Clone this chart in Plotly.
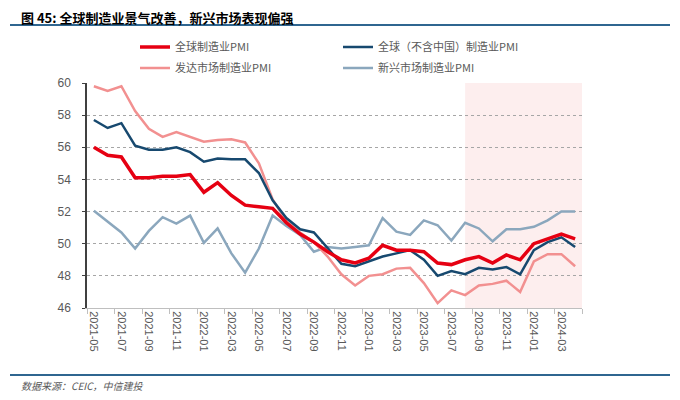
import plotly.graph_objects as go

# =========================
# DATA
# =========================
months = [
    "2021-05", "2021-06", "2021-07", "2021-08", "2021-09", "2021-10",
    "2021-11", "2021-12", "2022-01", "2022-02", "2022-03", "2022-04",
    "2022-05", "2022-06", "2022-07", "2022-08", "2022-09", "2022-10",
    "2022-11", "2022-12", "2023-01", "2023-02", "2023-03", "2023-04",
    "2023-05", "2023-06", "2023-07", "2023-08", "2023-09", "2023-10",
    "2023-11", "2023-12", "2024-01", "2024-02", "2024-03", "2024-04",
]

global_pmi = [
    56.0, 55.5, 55.4, 54.1, 54.1, 54.2, 54.2, 54.3, 53.2, 53.8, 53.0, 52.4,
    52.3, 52.2, 51.3, 50.6, 50.1, 49.5, 49.0, 48.8, 49.1, 49.9, 49.6, 49.6,
    49.5, 48.8, 48.7, 49.0, 49.2, 48.8, 49.3, 49.0, 50.0, 50.3, 50.6, 50.3,
]
global_ex_china_pmi = [
    57.7, 57.2, 57.5, 56.1, 55.85, 55.85, 56.0, 55.7, 55.1, 55.3, 55.25, 55.25,
    54.4, 52.7, 51.6, 50.9, 50.7, 49.7, 48.75, 48.6, 48.9, 49.2, 49.4, 49.6,
    49.0, 48.0, 48.3, 48.1, 48.5, 48.4, 48.55, 48.1, 49.6, 50.1, 50.4, 49.8,
]
developed_pmi = [
    59.8, 59.5, 59.8, 58.25, 57.15, 56.65, 56.95, 56.65, 56.35, 56.45, 56.5, 56.3,
    55.0, 52.75, 51.4, 50.7, 50.1, 49.2, 48.1, 47.4, 48.0, 48.1, 48.45, 48.5,
    47.55, 46.3, 47.1, 46.8, 47.4, 47.5, 47.7, 47.0, 48.9, 49.35, 49.35, 48.6,
]
emerging_pmi = [
    52.05, 51.35, 50.7, 49.7, 50.8, 51.65, 51.25, 51.75, 50.05, 50.95, 49.4, 48.2,
    49.7, 51.75, 51.1, 50.55, 49.5, 49.8, 49.7, 49.8, 49.9, 51.6, 50.75, 50.55,
    51.45, 51.15, 50.2, 51.3, 50.95, 50.15, 50.9, 50.9, 51.05, 51.45, 52.0, 52.0,
]

shade_start = "2023-08"

RED = "#e60012"
NAVY = "#17496f"
PINK = "#f29090"
STEEL = "#8ba7bd"
FONT = "Noto Sans CJK SC"

# page body adds an 8px margin, so figure coords = screen coords - 8
OFF = 8

# =========================
# FIGURE
# =========================
fig = go.Figure()

# drawn bottom -> top, legend order set by legendrank
series = [
    ("新兴市场制造业PMI", emerging_pmi, STEEL, 2.5, "legend2", 4),
    ("发达市场制造业PMI", developed_pmi, PINK, 2.5, "legend2", 3),
    ("全球（不含中国）制造业PMI", global_ex_china_pmi, NAVY, 2.5, "legend", 2),
    ("全球制造业PMI", global_pmi, RED, 3.5, "legend", 1),
]
for name, vals, color, w, leg, rank in series:
    fig.add_trace(go.Scatter(
        x=months, y=vals, mode="lines", name=name,
        line=dict(color=color, width=w),
        legend=leg, legendrank=rank,
    ))

# shaded recent period
fig.add_shape(
    type="rect", xref="x", yref="y",
    x0=months.index(shade_start), x1=len(months) - 0.5, y0=46, y1=60,
    fillcolor="#fdeeee", line=dict(width=0), layer="below",
)

# plot area on screen: 87..582 x 83..308 px
L, W, T, H = 87 - OFF, 495, 83 - OFF, 225
def px(x):
    return (x - OFF - L) / W
def py(y):
    return (T + H - (y - OFF)) / H

# header / footer rules
for yy in (25, 375):
    fig.add_shape(type="line", xref="paper", yref="paper",
                  x0=px(10), x1=px(670), y0=py(yy), y1=py(yy),
                  line=dict(color="#2f6690", width=2))

fig.add_annotation(
    text="<i>数据来源：CEIC，中信建投</i>", xref="paper", yref="paper",
    x=px(19), y=py(385), xanchor="left", yanchor="middle", showarrow=False,
    font=dict(family=FONT, size=10, color="#595959"),
)

# title as annotation so it is not clipped at the top edge
fig.add_annotation(
    text="<b>图 45: 全球制造业景气改善，新兴市场表现偏强</b>",
    xref="paper", yref="paper", x=px(19), y=py(17),
    xanchor="left", yanchor="middle", showarrow=False,
    font=dict(family=FONT, size=13, color="#000000"),
)

# =========================
# LAYOUT
# =========================
legend_common = dict(
    orientation="h", xref="container", yref="container",
    x=(135 - OFF) / 680, xanchor="left", yanchor="middle",
    entrywidth=158, entrywidthmode="pixels",
    font=dict(family=FONT, size=11, color="#595959"),
    bgcolor="rgba(0,0,0,0)", traceorder="normal",
)

fig.update_layout(
    width=680, height=400,
    margin=dict(l=L, r=680 - L - W, t=T, b=400 - T - H, autoexpand=False),
    paper_bgcolor="white", plot_bgcolor="white",
    font=dict(family=FONT, color="#595959"),
    legend=dict(legend_common, y=1 - (47 - OFF) / 400),
    legend2=dict(legend_common, y=1 - (68 - OFF) / 400),
    showlegend=True,
)

fig.update_xaxes(
    type="category", categoryorder="array", categoryarray=months,
    range=[-0.5, len(months) - 0.5], automargin=False,
    tickmode="linear", tick0=0, dtick=2, tickson="boundaries",
    tickangle=90, tickfont=dict(family="Liberation Sans", size=11, color="#595959"),
    showline=True, linecolor="#bfbfbf", linewidth=1,
    ticks="outside", ticklen=5, tickcolor="#bfbfbf",
    showgrid=False,
)
fig.update_yaxes(
    range=[46, 60], dtick=2, automargin=False,
    tickfont=dict(family="Liberation Sans", size=12, color="#595959"),
    ticklabelstandoff=9,
    showline=True, linecolor="#404040", linewidth=1.5,
    ticks="outside", ticklen=3, tickcolor="#404040",
    showgrid=True, gridcolor="#a6a6a6", griddash="dot", gridwidth=1,
    zeroline=False,
)

fig.write_html("out.html")
